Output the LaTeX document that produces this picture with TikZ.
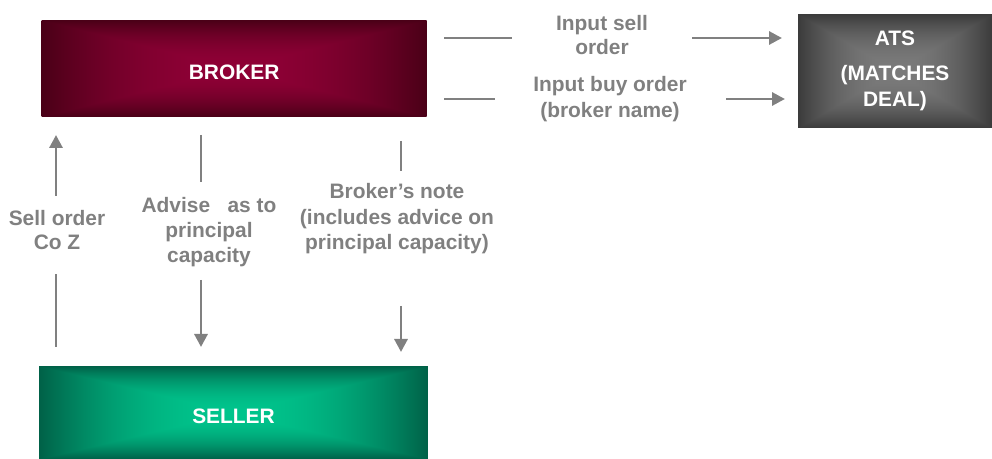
\documentclass[tikz,border=0pt]{standalone}
\usepackage{fontspec}
\setmainfont{Liberation Sans}
\usetikzlibrary{arrows.meta}

\definecolor{linegray}{RGB}{128,128,128}

\pgfdeclarefunctionalshading{brokerglow}{\pgfpoint{-50bp}{-50bp}}{\pgfpoint{50bp}{50bp}}{}{abs 25 div exch abs 25 div 2 copy sub abs add add 2 div dup mul dup -0.27 mul 0.56 add exch dup 0 mul 0 add exch -0.12 mul 0.21 add}
\pgfdeclarefunctionalshading{sellerglow}{\pgfpoint{-50bp}{-50bp}}{\pgfpoint{50bp}{50bp}}{}{abs 25 div exch abs 25 div 2 copy sub abs add add 2 div dup mul dup 0 mul 0 add exch dup -0.39 mul 0.77 add exch -0.27 mul 0.55 add}
\pgfdeclarefunctionalshading{atsglow}{\pgfpoint{-50bp}{-50bp}}{\pgfpoint{50bp}{50bp}}{}{abs 25 div exch abs 25 div 2 copy sub abs add add 2 div dup mul -0.25 mul 0.48 add dup dup}

\begin{document}
\begin{tikzpicture}[x=0.02cm,y=-0.02cm,
  box/.style={inner sep=0pt,text=white,font=\bfseries\fontsize{11.9}{14.7}\selectfont,align=center},
  lbl/.style={inner sep=0pt,text=linegray,font=\bfseries\fontsize{11.9}{13.4}\selectfont,align=center},
  conn/.style={draw=linegray,line width=1.7pt},
  arr/.style={-{Triangle[length=7.4pt,width=7.4pt]}}]
\useasboundingbox (0,0) rectangle (992,459);
\node[box,shading=brokerglow,minimum width=7.7cm,minimum height=1.93cm,text height=13pt,text depth=0pt] (broker) at (234.2,68.4) {BROKER};
\node[box,shading=atsglow,minimum width=3.88cm,minimum height=2.28cm] (ats) at (895,71) {ATS\\[5pt](MATCHES\\DEAL)};
\node[box,shading=sellerglow,minimum width=7.78cm,minimum height=1.86cm,text height=13pt,text depth=0pt] (seller) at (233.5,412.5) {SELLER};
\node[lbl] (sellin) at (602,35) {Input sell\\order};
\node[lbl,font=\bfseries\fontsize{11.9}{14.5}\selectfont] (buyin) at (610,99) {Input buy order\\(broker name)};
\node[lbl] (sellco) at (57,230) {Sell order\\Co Z};
\node[lbl,font=\bfseries\fontsize{11.9}{14.2}\selectfont] (advise) at (209,232) {Advise \ \ as to\\principal\\capacity};
\node[lbl,font=\bfseries\fontsize{11.9}{14.5}\selectfont] (note) at (397,219) {Broker's note\\(includes advice on\\principal capacity)};
\coordinate (s1) at (444,38);
\coordinate (s2) at (512,38);
\coordinate (s3) at (692,38);
\coordinate (s4) at (782,38);
\coordinate (b1) at (444,99);
\coordinate (b2) at (495,99);
\coordinate (b3) at (726,99);
\coordinate (b4) at (785,99);
\coordinate (o1) at (56,347);
\coordinate (o2) at (56,274);
\coordinate (o3) at (56,196);
\coordinate (o4) at (56,135);
\coordinate (a1) at (201,135);
\coordinate (a2) at (201,182);
\coordinate (a3) at (201,280);
\coordinate (a4) at (201,347);
\coordinate (n1) at (401,141);
\coordinate (n2) at (401,171);
\coordinate (n3) at (401,306);
\coordinate (n4) at (401,352);
\draw[conn] (s1) -- (s2);
\draw[conn,arr] (s3) -- (s4);
\draw[conn] (b1) -- (b2);
\draw[conn,arr] (b3) -- (b4);
\draw[conn] (o1) -- (o2);
\draw[conn,arr] (o3) -- (o4);
\draw[conn] (a1) -- (a2);
\draw[conn,arr] (a3) -- (a4);
\draw[conn] (n1) -- (n2);
\draw[conn,arr] (n3) -- (n4);
\end{tikzpicture}
\end{document}
